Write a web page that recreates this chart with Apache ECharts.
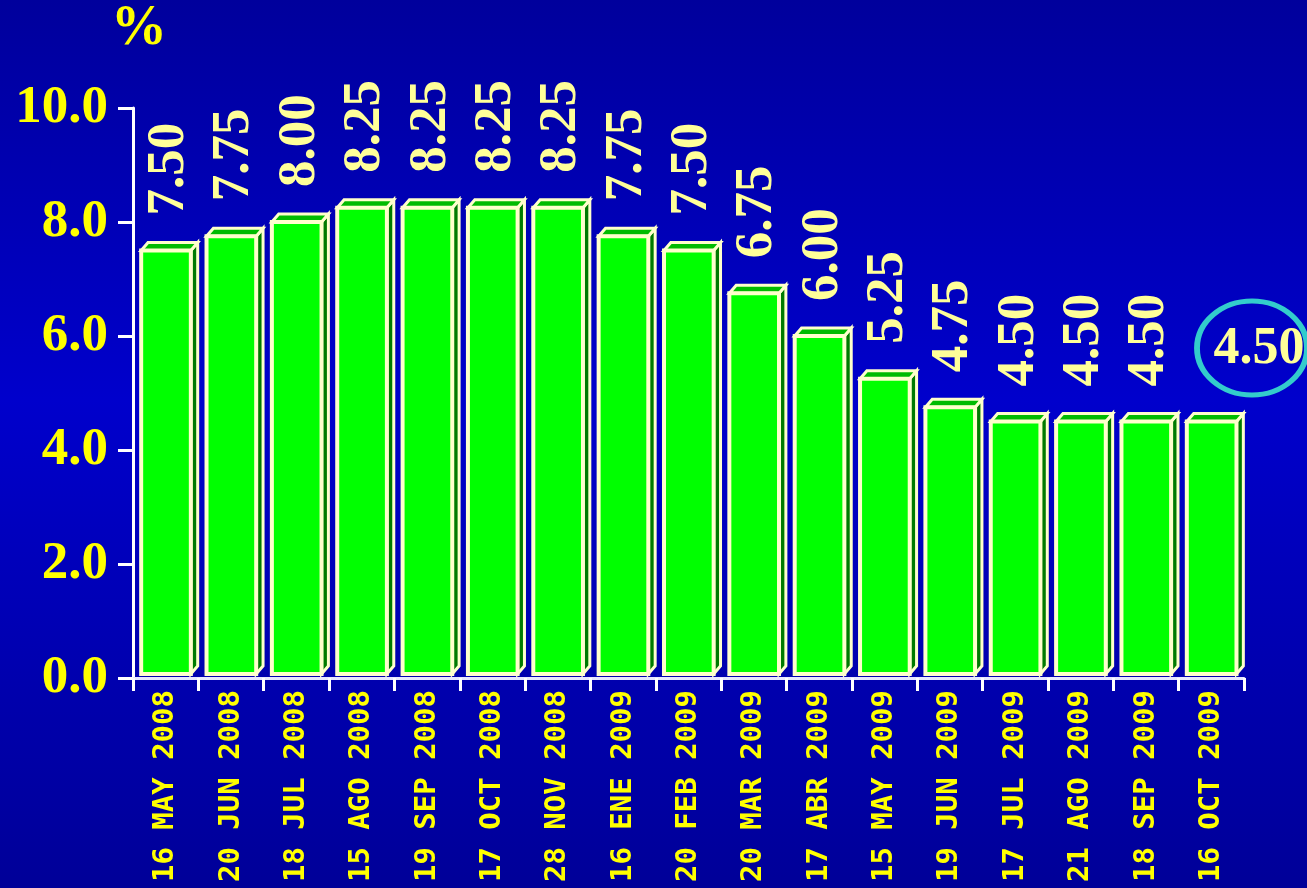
<!DOCTYPE html>
<html>
<head>
<meta charset="utf-8">
<script src="https://cdn.jsdelivr.net/npm/echarts@6/dist/echarts.min.js"></script>
<style>
html,body{margin:0;padding:0;background:#0000b0;}
#chart{width:1307px;height:888px;}
</style>
</head>
<body>
<div id="chart"></div>
<script>
const categories = ['16 MAY 2008','20 JUN 2008','18 JUL 2008','15 AGO 2008','19 SEP 2008','17 OCT 2008','28 NOV 2008','16 ENE 2009','20 FEB 2009','20 MAR 2009','17 ABR 2009','15 MAY 2009','19 JUN 2009','17 JUL 2009','21 AGO 2009','18 SEP 2009','16 OCT 2009'];
const rates = [7.50, 7.75, 8.00, 8.25, 8.25, 8.25, 8.25, 7.75, 7.50, 6.75, 6.00, 5.25, 4.75, 4.50, 4.50, 4.50, 4.50];
const rateLabels = ['7.50','7.75','8.00','8.25','8.25','8.25','8.25','7.75','7.50','6.75','6.00','5.25','4.75','4.50','4.50','4.50',''];
const highlightLabel = '4.50';
const yTicks = [0, 2, 4, 6, 8, 10];
const unitLabel = '%';

const chart = echarts.init(document.getElementById('chart'), null, {renderer:'canvas'});
const serif = '"Liberation Serif","Times New Roman",serif';
const YELLOW = '#ffff00';
const PALE = '#ffff99';
const EDGE = '#ffffcc';

function renderItem(params, api) {
  const idx = api.value(0);
  const val = api.value(1);
  const base = api.coord([idx, 0]);
  const top = api.coord([idx, val]);
  const catW = api.size([1, 0])[0];
  const start = base[0] - catW / 2;
  const left = start + catW * 0.125;
  const right = left + catW * 0.76;
  const dx = catW * 0.105;
  const dy = 8;
  const yBot = base[1] - 4;
  const yTop = top[1];
  const children = [
    {type:'polygon', shape:{points:[[right,yTop],[right+dx,yTop-dy],[right+dx,yBot-dy],[right,yBot]]},
      style:{fill:'#007a00', stroke:EDGE, lineWidth:3, lineJoin:'miter'}},
    {type:'polygon', shape:{points:[[left,yTop],[left+dx,yTop-dy],[right+dx,yTop-dy],[right,yTop]]},
      style:{fill:'#00bb00', stroke:EDGE, lineWidth:3, lineJoin:'miter'}},
    {type:'rect', shape:{x:left, y:yTop, width:right-left, height:yBot-yTop},
      style:{fill:'#00ff00', stroke:EDGE, lineWidth:4}}
  ];
  const lbl = rateLabels[idx];
  if (lbl) {
    children.push({type:'text', x:(left+right)/2 + dx/2, y:yTop - 35, rotation:Math.PI/2,
      style:{text:lbl, align:'left', verticalAlign:'middle', fill:PALE,
        font:'bold 53px ' + serif}});
  }
  return {type:'group', children};
}

const option = {
  backgroundColor: {type:'linear', x:0, y:0, x2:0, y2:1, colorStops:[
    {offset:0, color:'#00009c'}, {offset:0.45, color:'#0000cc'}, {offset:1, color:'#000098'}]},
  animation:false,
  grid:{left:133, right:63, top:108, bottom:210},
  xAxis:{
    type:'category', data:categories,
    axisLine:{show:true, lineStyle:{color:'#e8e8ff', width:3}},
    axisTick:{show:true, length:13, lineStyle:{color:'#ffffff', width:3}},
    axisLabel:{rotate:90, margin:12, color:YELLOW, fontFamily:'"DejaVu Sans Mono",monospace',
      fontWeight:'bold', fontSize:29, interval:0, padding:[0,0,0,0]}
  },
  yAxis:{
    type:'value', min:0, max:10, interval:2,
    axisLine:{show:true, lineStyle:{color:'#ffffff', width:3}},
    axisTick:{show:true, length:15, lineStyle:{color:'#ffffff', width:3}},
    splitLine:{show:false},
    axisLabel:{margin:25, color:YELLOW, fontFamily:serif, fontWeight:'bold', fontSize:53,
      formatter: v => yTicks.includes(v) ? v.toFixed(1) : ''}
  },
  series:[{
    type:'custom',
    renderItem,
    data: rates.map((v,i)=>[i,v]),
    encode:{x:0, y:1},
    clip:false
  }],
  graphic:[
    {type:'text', x:111, y:2, style:{text:unitLabel, fill:YELLOW, font:'bold 56px ' + serif,
      shadowColor:'#000000', shadowOffsetX:3, shadowOffsetY:3, shadowBlur:0}},
    {type:'circle', x:1252, y:348, scaleX:55/47, shape:{cx:0, cy:0, r:47},
      style:{fill:'none', stroke:'#33cccc', lineWidth:5, strokeNoScale:true}},
    {type:'text', x:1259, y:350, style:{text:highlightLabel, fill:PALE, font:'bold 52px ' + serif,
      align:'center', verticalAlign:'middle'}}
  ]
};
chart.setOption(option);
</script>
</body>
</html>
